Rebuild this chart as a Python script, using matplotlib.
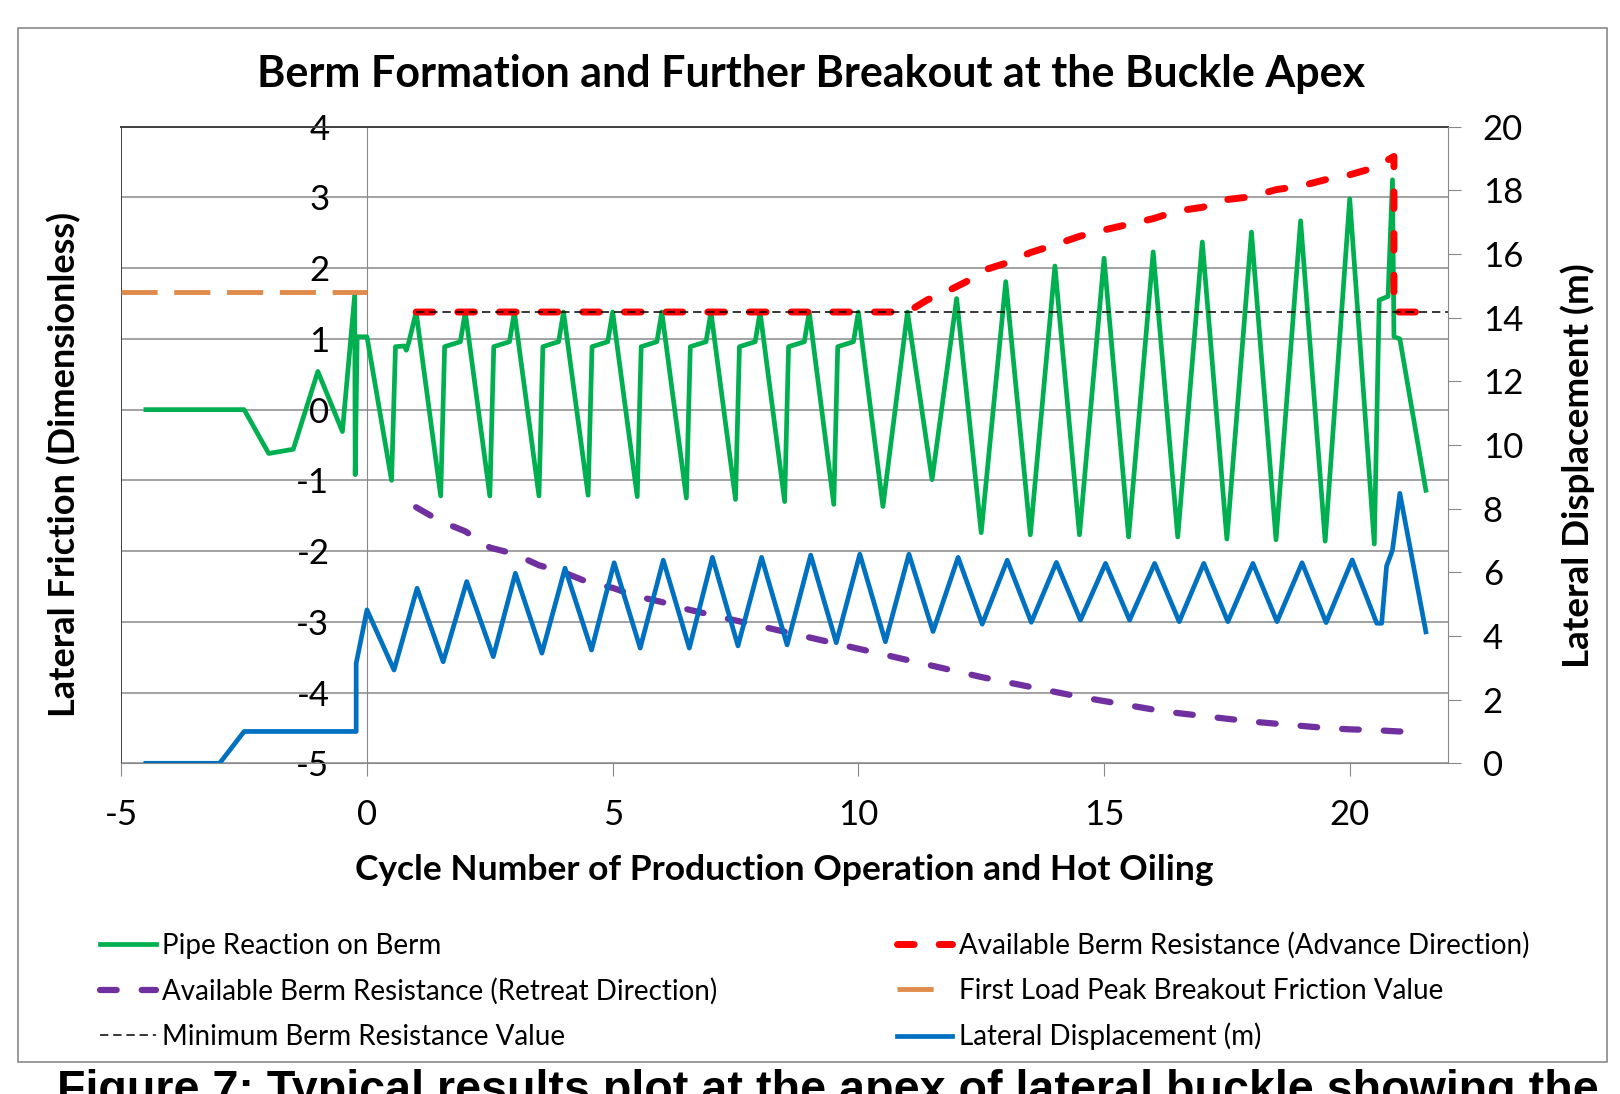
import matplotlib
matplotlib.use('Agg')
import matplotlib.pyplot as plt
from matplotlib.patches import Rectangle
from matplotlib.lines import Line2D

plt.rcParams['font.family'] = ['Lato', 'DejaVu Sans']
plt.rcParams['lines.scale_dashes'] = False
plt.rcParams['axes.unicode_minus'] = False

# --- data ---
# pipe reaction on berm (left axis)
green_x = [-4.5, -2.5, -2.0, -1.5, -1.0, -0.5, -0.25, -0.24, -0.2, 0.0, 0.5,
           0.58, 0.76, 0.8, 0.85, 1.0, 1.5,
           1.58, 1.9, 2.0, 2.5,
           2.58, 2.9, 3.0, 3.5,
           3.58, 3.9, 4.0, 4.5,
           4.58, 4.9, 5.0, 5.5,
           5.58, 5.9, 6.0, 6.5,
           6.58, 6.9, 7.0, 7.5,
           7.58, 7.9, 8.0, 8.5,
           8.58, 8.9, 9.0, 9.5,
           9.58, 9.9, 10.0, 10.5,
           11.0, 11.5, 12.0, 12.5, 13.0, 13.5, 14.0, 14.5, 15.0, 15.5,
           16.0, 16.5, 17.0, 17.5, 18.0, 18.5, 19.0, 19.5, 20.0, 20.5,
           20.6, 20.78, 20.87, 20.9, 21.02, 21.55]
green_y = [0.0, 0.0, -0.62, -0.56, 0.54, -0.31, 1.62, -0.92, 1.03, 1.03, -1.0,
           0.89, 0.9, 0.84, 0.95, 1.38, -1.22,
           0.89, 0.96, 1.38, -1.22,
           0.89, 0.96, 1.38, -1.22,
           0.89, 0.96, 1.38, -1.21,
           0.89, 0.96, 1.38, -1.23,
           0.89, 0.96, 1.38, -1.25,
           0.89, 0.96, 1.38, -1.27,
           0.89, 0.96, 1.38, -1.30,
           0.89, 0.96, 1.38, -1.34,
           0.89, 0.96, 1.38, -1.37,
           1.38, -0.99, 1.57, -1.74, 1.81, -1.77, 2.03, -1.77, 2.14, -1.80,
           2.23, -1.80, 2.37, -1.83, 2.51, -1.84, 2.67, -1.86, 2.98, -1.90,
           1.55, 1.6, 3.25, 1.03, 1.0, -1.14]

# available berm resistance, advance direction (left axis)
red_x = [1.0, 11.0, 11.4, 11.8, 12.2, 12.5, 13.0, 13.5, 14.0, 14.5, 15.0, 15.5,
         16.0, 16.5, 17.0, 17.5, 18.0, 18.5, 19.0, 19.5, 20.0, 20.5, 20.9,
         20.9, 21.5]
red_y = [1.38, 1.38, 1.55, 1.67, 1.81, 1.96, 2.07, 2.22, 2.33, 2.45, 2.54, 2.62,
         2.70, 2.81, 2.86, 2.97, 3.01, 3.11, 3.16, 3.25, 3.32, 3.42, 3.58,
         1.38, 1.38]

# available berm resistance, retreat direction (left axis)
purple_x = [1.0, 1.5, 2.0, 2.5, 3.0, 3.5, 4.0, 4.5, 5.0, 5.5, 6.0, 6.5, 7.0,
            7.5, 8.0, 8.5, 9.0, 9.5, 10.0, 10.5, 11.0, 11.5, 12.0, 12.5, 13.0,
            13.5, 14.0, 14.5, 15.0, 15.5, 16.0, 16.5, 17.0, 17.5, 18.0, 18.5,
            19.0, 19.5, 20.0, 20.5, 21.0, 21.5]
purple_y = [-1.38, -1.58, -1.72, -1.95, -2.04, -2.2, -2.3, -2.44, -2.52, -2.64,
            -2.72, -2.82, -2.9, -2.98, -3.06, -3.14, -3.22, -3.3, -3.38, -3.46,
            -3.54, -3.62, -3.7, -3.78, -3.85, -3.92, -3.99, -4.06, -4.12, -4.18,
            -4.24, -4.29, -4.33, -4.37, -4.41, -4.44, -4.47, -4.5, -4.52, -4.53,
            -4.55, -4.55]

# first load peak breakout friction and minimum berm resistance (left axis)
orange_x = [-5.0, 0.0]
orange_y = [1.66, 1.66]
black_x = [1.0, 22.0]
black_y = [1.38, 1.38]

# lateral displacement (right axis, m)
blue_x = [-4.5, -3.0, -2.5, -0.22, -0.22, 0.0, 0.55, 1.02, 1.55, 2.03, 2.57,
          3.02, 3.56, 4.03, 4.57, 5.03, 5.56, 6.03, 6.56, 7.03, 7.55, 8.03,
          8.55, 9.03, 9.55, 10.03, 10.55, 11.03, 11.52, 12.03, 12.52, 13.03,
          13.52, 14.03, 14.52, 15.03, 15.52, 16.03, 16.53, 17.03, 17.52, 18.03,
          18.52, 19.03, 19.52, 20.05, 20.55, 20.65, 20.75, 20.8, 20.87, 21.02,
          21.55]
blue_y = [0.0, 0.0, 1.0, 1.0, 3.14, 4.82, 2.93, 5.5, 3.19, 5.71, 3.35,
          5.97, 3.46, 6.13, 3.56, 6.3, 3.62, 6.38, 3.62, 6.47, 3.69, 6.47,
          3.72, 6.54, 3.79, 6.57, 3.82, 6.57, 4.14, 6.47, 4.37, 6.38,
          4.43, 6.31, 4.5, 6.28, 4.5, 6.28, 4.45, 6.28, 4.45, 6.28,
          4.45, 6.30, 4.42, 6.39, 4.40, 4.40, 6.2, 6.4, 6.7, 8.48,
          4.13]

labels = ['Pipe Reaction on Berm',
          'Available Berm Resistance (Advance Direction)',
          'Available Berm Resistance (Retreat Direction)',
          'First Load Peak Breakout Friction Value',
          'Minimum Berm Resistance Value',
          'Lateral Displacement (m)']

title = 'Berm Formation and Further Breakout at the Buckle Apex'
caption = 'Figure 7: Typical results plot at the apex of lateral buckle showing the'

grey = '#898989'
dark = '#404040'
orange = '#E08A4B'

fig = plt.figure(figsize=(16.2, 10.94), dpi=100)
fig.patches.append(Rectangle((18 / 1620, 1 - 1062 / 1094), 1589 / 1620, 1034 / 1094,
                             transform=fig.transFigure, fill=False,
                             edgecolor=grey, lw=1.2))

ax = fig.add_axes([121.3 / 1620, 1 - 763.3 / 1094, 1326.7 / 1620, 636.6 / 1094])
ax2 = ax.twinx()

g, = ax.plot(green_x, green_y, color='#00B050', lw=3.4, label=labels[0], zorder=3)
r, = ax.plot(red_x, red_y, color='#FF0000', lw=5, dashes=(12, 18),
             dash_capstyle='round', label=labels[1], zorder=4)
p, = ax.plot(purple_x, purple_y, color='#7030A0', lw=4.5, dashes=(12, 18),
             dash_capstyle='round', label=labels[2], zorder=4)
o, = ax.plot(orange_x, orange_y, color=orange, lw=3.5, dashes=(26, 12),
             label=labels[3], zorder=4)
k, = ax.plot(black_x, black_y, color='black', lw=1.1, dashes=(6, 3.5),
             label=labels[4], zorder=5)
b, = ax2.plot(blue_x, blue_y, color='#0070C0', lw=3.4, label=labels[5])

ax.set_xlim(-5, 22)
ax.set_ylim(-5, 4)
ax2.set_ylim(0, 20)
ax.set_xticks(range(-5, 21, 5))
ax.set_yticks(range(-5, 5))
ax2.set_yticks(range(0, 21, 2))

ax.grid(axis='y', color=grey, lw=1.1)
ax.set_axisbelow(True)
ax.spines['left'].set_position(('data', 0))
ax.spines['left'].set_color(grey)
ax.spines['bottom'].set_color(grey)
ax.spines['top'].set_color(dark)
ax.spines['top'].set_linewidth(1.4)
ax.spines['right'].set_visible(False)
ax.axvline(-5, color=dark, lw=1.4, zorder=2)
for s in ['top', 'left', 'bottom']:
    ax2.spines[s].set_visible(False)
ax2.spines['right'].set_color(grey)

ax.tick_params(axis='y', length=0, pad=27, labelsize=25)
ax.tick_params(axis='x', length=9, color=grey, pad=17, labelsize=25)
ax2.tick_params(axis='y', length=9, color=grey, pad=16, labelsize=25)

fig.text(811 / 1620, 1 - 74 / 1094, title, ha='center', va='center',
         fontsize=31, fontweight='bold')
fig.text(784 / 1620, 1 - 870 / 1094, 'Cycle Number of Production Operation and Hot Oiling',
         ha='center', va='center', fontsize=25.5, fontweight='bold')
fig.text(64 / 1620, 1 - 464 / 1094, 'Lateral Friction (Dimensionless)', rotation=90,
         ha='center', va='center', fontsize=26, fontweight='bold')
fig.text(1578 / 1620, 1 - 466 / 1094, 'Lateral Displacement (m)', rotation=90,
         ha='center', va='center', fontsize=26.5, fontweight='bold')

# legend proxy for the orange line so it shows one dash like the reference
o_leg = Line2D([], [], color=orange, lw=3.5, dashes=(26, 40))
handles = [g, p, k, r, o_leg, b]
leg_labels = labels[0], labels[2], labels[4], labels[1], labels[3], labels[5]
fig.legend(handles, leg_labels, ncol=2, loc='upper left',
           bbox_to_anchor=(75 / 1620, 1 - 907 / 1094), frameon=False,
           fontsize=20, handlelength=2.0, handletextpad=0.25,
           columnspacing=6.45, labelspacing=0.68)

fig.text(57 / 1620, 1 - 1103 / 1094, caption, ha='left', va='baseline',
         fontsize=33.6, fontweight='bold', family='Liberation Sans')

fig.savefig('out.png', dpi=100)
